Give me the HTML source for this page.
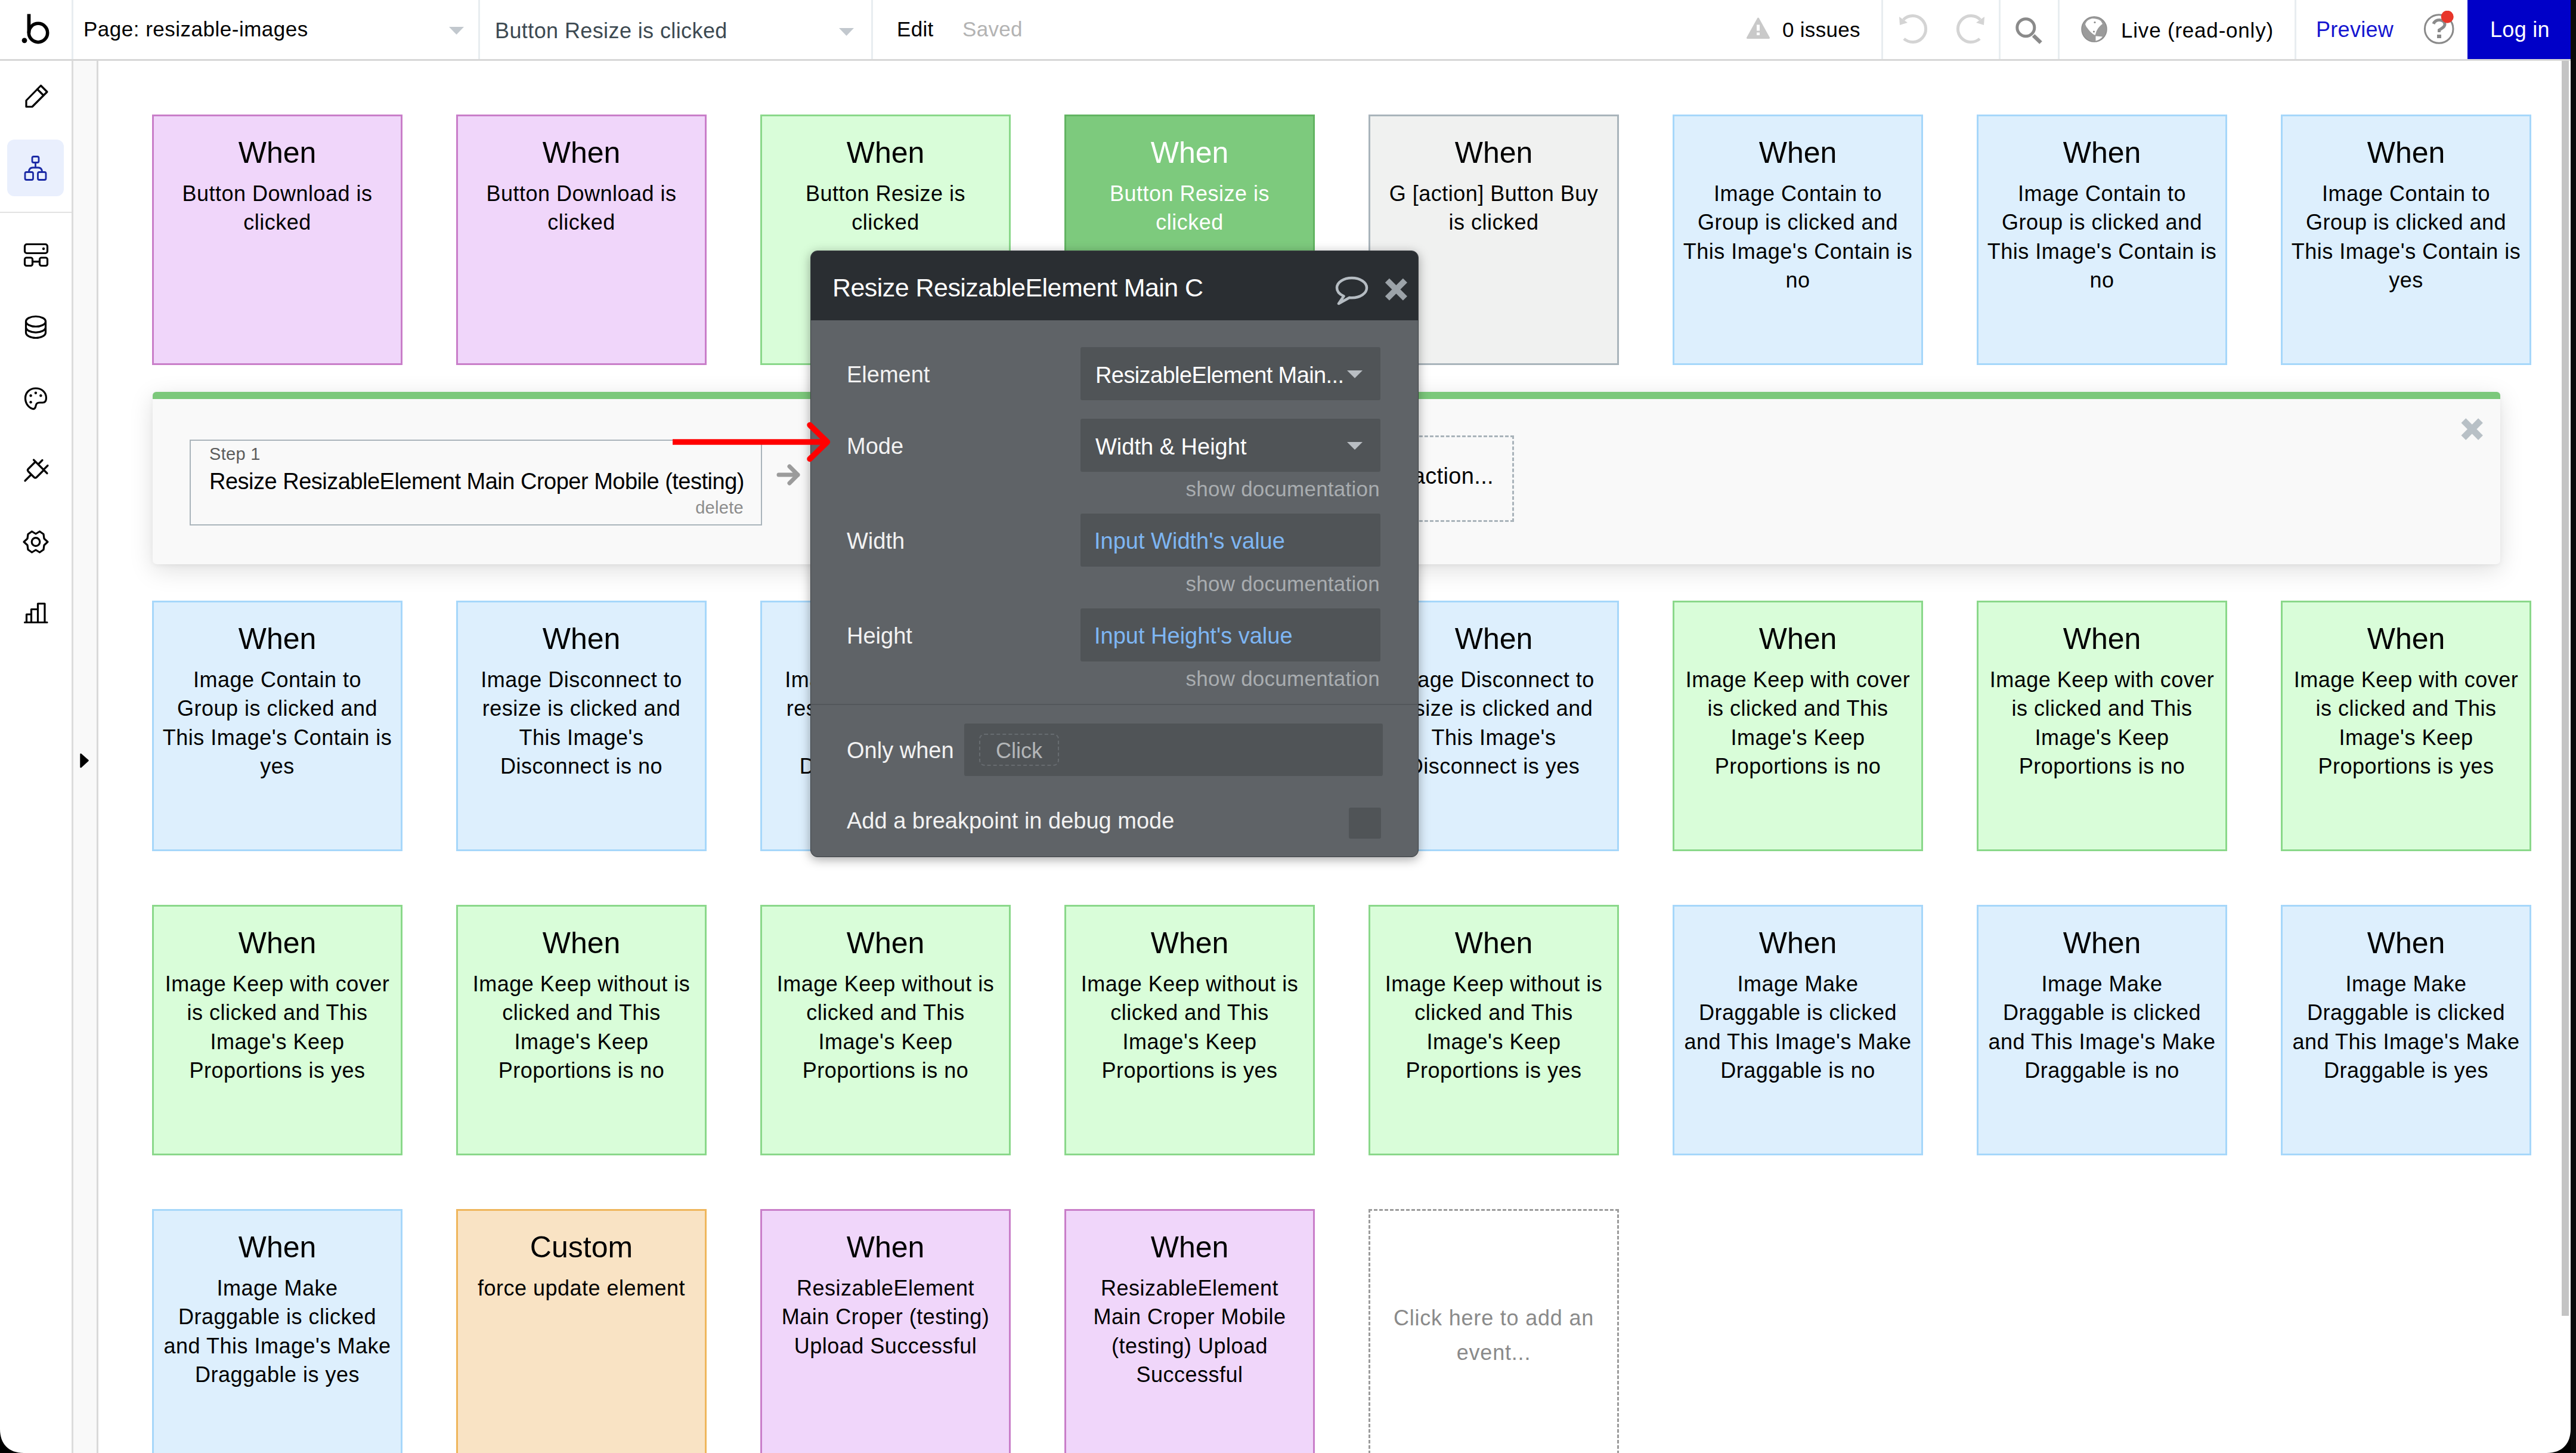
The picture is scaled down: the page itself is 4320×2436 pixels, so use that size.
<!DOCTYPE html>
<html><head><meta charset="utf-8"><style>
html,body{margin:0;padding:0;width:4320px;height:2436px;overflow:hidden;background:#fff;}
body{position:relative;font-family:"Liberation Sans", sans-serif;}
.t{position:absolute;white-space:nowrap;}
.b{position:absolute;}
.card{position:absolute;}
.ch{position:absolute;left:0;width:100%;text-align:center;white-space:nowrap;}
.cb{position:absolute;left:-20px;width:calc(100% + 40px);text-align:center;white-space:nowrap;}
</style></head><body>
<div class="card" style="left:255px;top:192px;width:414px;height:414px;background:#f0d6fa;border:3px solid #c97ec9;color:#000">
<div class="ch" style="top:35.7px;font-size:50px;line-height:50px">When</div>
<div class="cb" style="top:106.0px;font-size:36px;line-height:48.3px;letter-spacing:0.5px">Button Download is<br>clicked</div>
</div>
<div class="card" style="left:765px;top:192px;width:414px;height:414px;background:#f0d6fa;border:3px solid #c97ec9;color:#000">
<div class="ch" style="top:35.7px;font-size:50px;line-height:50px">When</div>
<div class="cb" style="top:106.0px;font-size:36px;line-height:48.3px;letter-spacing:0.5px">Button Download is<br>clicked</div>
</div>
<div class="card" style="left:1275px;top:192px;width:414px;height:414px;background:#d9fdd9;border:3px solid #8ad88a;color:#000">
<div class="ch" style="top:35.7px;font-size:50px;line-height:50px">When</div>
<div class="cb" style="top:106.0px;font-size:36px;line-height:48.3px;letter-spacing:0.5px">Button Resize is<br>clicked</div>
</div>
<div class="card" style="left:1785px;top:192px;width:414px;height:414px;background:#7dca7d;border:3px solid #62b462;color:#fff">
<div class="ch" style="top:35.7px;font-size:50px;line-height:50px">When</div>
<div class="cb" style="top:106.0px;font-size:36px;line-height:48.3px;letter-spacing:0.5px">Button Resize is<br>clicked</div>
</div>
<div class="card" style="left:2295px;top:192px;width:414px;height:414px;background:#f0f1f0;border:3px solid #a9b4bb;color:#000">
<div class="ch" style="top:35.7px;font-size:50px;line-height:50px">When</div>
<div class="cb" style="top:106.0px;font-size:36px;line-height:48.3px;letter-spacing:0.5px">G [action] Button Buy<br>is clicked</div>
</div>
<div class="card" style="left:2805px;top:192px;width:414px;height:414px;background:#ddeffd;border:3px solid #a6d7fa;color:#000">
<div class="ch" style="top:35.7px;font-size:50px;line-height:50px">When</div>
<div class="cb" style="top:106.0px;font-size:36px;line-height:48.3px;letter-spacing:0.5px">Image Contain to<br>Group is clicked and<br>This Image's Contain is<br>no</div>
</div>
<div class="card" style="left:3315px;top:192px;width:414px;height:414px;background:#ddeffd;border:3px solid #a6d7fa;color:#000">
<div class="ch" style="top:35.7px;font-size:50px;line-height:50px">When</div>
<div class="cb" style="top:106.0px;font-size:36px;line-height:48.3px;letter-spacing:0.5px">Image Contain to<br>Group is clicked and<br>This Image's Contain is<br>no</div>
</div>
<div class="card" style="left:3825px;top:192px;width:414px;height:414px;background:#ddeffd;border:3px solid #a6d7fa;color:#000">
<div class="ch" style="top:35.7px;font-size:50px;line-height:50px">When</div>
<div class="cb" style="top:106.0px;font-size:36px;line-height:48.3px;letter-spacing:0.5px">Image Contain to<br>Group is clicked and<br>This Image's Contain is<br>yes</div>
</div>
<div class="card" style="left:255px;top:1007px;width:414px;height:414px;background:#ddeffd;border:3px solid #a6d7fa;color:#000">
<div class="ch" style="top:35.7px;font-size:50px;line-height:50px">When</div>
<div class="cb" style="top:106.0px;font-size:36px;line-height:48.3px;letter-spacing:0.5px">Image Contain to<br>Group is clicked and<br>This Image's Contain is<br>yes</div>
</div>
<div class="card" style="left:765px;top:1007px;width:414px;height:414px;background:#ddeffd;border:3px solid #a6d7fa;color:#000">
<div class="ch" style="top:35.7px;font-size:50px;line-height:50px">When</div>
<div class="cb" style="top:106.0px;font-size:36px;line-height:48.3px;letter-spacing:0.5px">Image Disconnect to<br>resize is clicked and<br>This Image's<br>Disconnect is no</div>
</div>
<div class="card" style="left:1275px;top:1007px;width:414px;height:414px;background:#ddeffd;border:3px solid #a6d7fa;color:#000">
<div class="ch" style="top:35.7px;font-size:50px;line-height:50px">When</div>
<div class="cb" style="top:106.0px;font-size:36px;line-height:48.3px;letter-spacing:0.5px">Image Disconnect to<br>resize is clicked and<br>This Image's<br>Disconnect is yes</div>
</div>
<div class="card" style="left:1785px;top:1007px;width:414px;height:414px;background:#ddeffd;border:3px solid #a6d7fa;color:#000">
<div class="ch" style="top:35.7px;font-size:50px;line-height:50px">When</div>
<div class="cb" style="top:106.0px;font-size:36px;line-height:48.3px;letter-spacing:0.5px">Image Disconnect to<br>resize is clicked and<br>This Image's<br>Disconnect is yes</div>
</div>
<div class="card" style="left:2295px;top:1007px;width:414px;height:414px;background:#ddeffd;border:3px solid #a6d7fa;color:#000">
<div class="ch" style="top:35.7px;font-size:50px;line-height:50px">When</div>
<div class="cb" style="top:106.0px;font-size:36px;line-height:48.3px;letter-spacing:0.5px">Image Disconnect to<br>resize is clicked and<br>This Image's<br>Disconnect is yes</div>
</div>
<div class="card" style="left:2805px;top:1007px;width:414px;height:414px;background:#d9fdd9;border:3px solid #8ad88a;color:#000">
<div class="ch" style="top:35.7px;font-size:50px;line-height:50px">When</div>
<div class="cb" style="top:106.0px;font-size:36px;line-height:48.3px;letter-spacing:0.5px">Image Keep with cover<br>is clicked and This<br>Image's Keep<br>Proportions is no</div>
</div>
<div class="card" style="left:3315px;top:1007px;width:414px;height:414px;background:#d9fdd9;border:3px solid #8ad88a;color:#000">
<div class="ch" style="top:35.7px;font-size:50px;line-height:50px">When</div>
<div class="cb" style="top:106.0px;font-size:36px;line-height:48.3px;letter-spacing:0.5px">Image Keep with cover<br>is clicked and This<br>Image's Keep<br>Proportions is no</div>
</div>
<div class="card" style="left:3825px;top:1007px;width:414px;height:414px;background:#d9fdd9;border:3px solid #8ad88a;color:#000">
<div class="ch" style="top:35.7px;font-size:50px;line-height:50px">When</div>
<div class="cb" style="top:106.0px;font-size:36px;line-height:48.3px;letter-spacing:0.5px">Image Keep with cover<br>is clicked and This<br>Image's Keep<br>Proportions is yes</div>
</div>
<div class="card" style="left:255px;top:1517px;width:414px;height:414px;background:#d9fdd9;border:3px solid #8ad88a;color:#000">
<div class="ch" style="top:35.7px;font-size:50px;line-height:50px">When</div>
<div class="cb" style="top:106.0px;font-size:36px;line-height:48.3px;letter-spacing:0.5px">Image Keep with cover<br>is clicked and This<br>Image's Keep<br>Proportions is yes</div>
</div>
<div class="card" style="left:765px;top:1517px;width:414px;height:414px;background:#d9fdd9;border:3px solid #8ad88a;color:#000">
<div class="ch" style="top:35.7px;font-size:50px;line-height:50px">When</div>
<div class="cb" style="top:106.0px;font-size:36px;line-height:48.3px;letter-spacing:0.5px">Image Keep without is<br>clicked and This<br>Image's Keep<br>Proportions is no</div>
</div>
<div class="card" style="left:1275px;top:1517px;width:414px;height:414px;background:#d9fdd9;border:3px solid #8ad88a;color:#000">
<div class="ch" style="top:35.7px;font-size:50px;line-height:50px">When</div>
<div class="cb" style="top:106.0px;font-size:36px;line-height:48.3px;letter-spacing:0.5px">Image Keep without is<br>clicked and This<br>Image's Keep<br>Proportions is no</div>
</div>
<div class="card" style="left:1785px;top:1517px;width:414px;height:414px;background:#d9fdd9;border:3px solid #8ad88a;color:#000">
<div class="ch" style="top:35.7px;font-size:50px;line-height:50px">When</div>
<div class="cb" style="top:106.0px;font-size:36px;line-height:48.3px;letter-spacing:0.5px">Image Keep without is<br>clicked and This<br>Image's Keep<br>Proportions is yes</div>
</div>
<div class="card" style="left:2295px;top:1517px;width:414px;height:414px;background:#d9fdd9;border:3px solid #8ad88a;color:#000">
<div class="ch" style="top:35.7px;font-size:50px;line-height:50px">When</div>
<div class="cb" style="top:106.0px;font-size:36px;line-height:48.3px;letter-spacing:0.5px">Image Keep without is<br>clicked and This<br>Image's Keep<br>Proportions is yes</div>
</div>
<div class="card" style="left:2805px;top:1517px;width:414px;height:414px;background:#ddeffd;border:3px solid #a6d7fa;color:#000">
<div class="ch" style="top:35.7px;font-size:50px;line-height:50px">When</div>
<div class="cb" style="top:106.0px;font-size:36px;line-height:48.3px;letter-spacing:0.5px">Image Make<br>Draggable is clicked<br>and This Image's Make<br>Draggable is no</div>
</div>
<div class="card" style="left:3315px;top:1517px;width:414px;height:414px;background:#ddeffd;border:3px solid #a6d7fa;color:#000">
<div class="ch" style="top:35.7px;font-size:50px;line-height:50px">When</div>
<div class="cb" style="top:106.0px;font-size:36px;line-height:48.3px;letter-spacing:0.5px">Image Make<br>Draggable is clicked<br>and This Image's Make<br>Draggable is no</div>
</div>
<div class="card" style="left:3825px;top:1517px;width:414px;height:414px;background:#ddeffd;border:3px solid #a6d7fa;color:#000">
<div class="ch" style="top:35.7px;font-size:50px;line-height:50px">When</div>
<div class="cb" style="top:106.0px;font-size:36px;line-height:48.3px;letter-spacing:0.5px">Image Make<br>Draggable is clicked<br>and This Image's Make<br>Draggable is yes</div>
</div>
<div class="card" style="left:255px;top:2027px;width:414px;height:414px;background:#ddeffd;border:3px solid #a6d7fa;color:#000">
<div class="ch" style="top:35.7px;font-size:50px;line-height:50px">When</div>
<div class="cb" style="top:106.0px;font-size:36px;line-height:48.3px;letter-spacing:0.5px">Image Make<br>Draggable is clicked<br>and This Image's Make<br>Draggable is yes</div>
</div>
<div class="card" style="left:765px;top:2027px;width:414px;height:414px;background:#f9e3c4;border:3px solid #efb65c;color:#000">
<div class="ch" style="top:35.7px;font-size:50px;line-height:50px">Custom</div>
<div class="cb" style="top:106.0px;font-size:36px;line-height:48.3px;letter-spacing:0.5px">force update element</div>
</div>
<div class="card" style="left:1275px;top:2027px;width:414px;height:414px;background:#f0d6fa;border:3px solid #c97ec9;color:#000">
<div class="ch" style="top:35.7px;font-size:50px;line-height:50px">When</div>
<div class="cb" style="top:106.0px;font-size:36px;line-height:48.3px;letter-spacing:0.5px">ResizableElement<br>Main Croper (testing)<br>Upload Successful</div>
</div>
<div class="card" style="left:1785px;top:2027px;width:414px;height:414px;background:#f0d6fa;border:3px solid #c97ec9;color:#000">
<div class="ch" style="top:35.7px;font-size:50px;line-height:50px">When</div>
<div class="cb" style="top:106.0px;font-size:36px;line-height:48.3px;letter-spacing:0.5px">ResizableElement<br>Main Croper Mobile<br>(testing) Upload<br>Successful</div>
</div>
<div class="card" style="left:2295px;top:2027px;width:414px;height:414px;border:3px dashed #9c9c9c;background:#fff"></div>
<div class="t" style="left:2295px;top:2191.5px;font-size:36px;line-height:36px;color:#8a8a8a;letter-spacing:0.8px;width:420px;text-align:center;">Click here to add an</div>
<div class="t" style="left:2295px;top:2249.5px;font-size:36px;line-height:36px;color:#8a8a8a;letter-spacing:0.8px;width:420px;text-align:center;">event...</div>
<div class="b" style="left:256px;top:657px;width:3937px;height:289px;background:#f9f9f9;box-shadow:0 10px 40px rgba(0,0,0,0.13), 0 2px 8px rgba(0,0,0,0.05);border-radius:7px"></div>
<div class="b" style="left:256px;top:657px;width:3937px;height:12px;background:#7cc87b;border-radius:6px 6px 0 0"></div>
<div class="b" style="left:318px;top:737px;width:956px;height:140px;border:2.5px solid #aab4bb;background:#f9f9f9"></div>
<div class="t" style="left:351px;top:746.5px;font-size:29px;line-height:29px;color:#5c5c5c;letter-spacing:0.3px;">Step 1</div>
<div class="t" style="left:351px;top:787.8px;font-size:38px;line-height:38px;color:#000;letter-spacing:-0.5px;">Resize ResizableElement Main Croper Mobile (testing)</div>
<div class="t" style="right:3073px;top:836.5px;font-size:29px;line-height:29px;color:#8c8c8c;letter-spacing:0.3px;">delete</div>
<svg class="b" style="left:1300px;top:772px" width="48" height="48" viewBox="0 0 48 48"><path d="M6 24 H38 M24 10 L38 24 L24 38" stroke="#9b9b9b" stroke-width="7" fill="none" stroke-linecap="round" stroke-linejoin="round"/></svg>
<div class="b" style="left:1380px;top:730px;width:1153px;height:139px;border:3px dashed #a9b3ba;"></div>
<div class="t" style="right:1815px;top:778.8px;font-size:38px;line-height:38px;color:#000;letter-spacing:0.35px;">Click here to add an action...</div>
<svg class="b" style="left:4120px;top:694px" width="52" height="52" viewBox="4120 694 52 52"><path d="M4131.4 705.2 L4160 733.8 M4160 705.2 L4131.4 733.8" stroke="#b8c0c6" stroke-width="11" stroke-linecap="butt"/></svg>
<div class="b" style="left:1359px;top:420px;width:1020px;height:1017px;background:#5f6367;border-radius:12px;box-shadow:0 4px 18px rgba(0,0,0,0.35);overflow:hidden;border:1px solid #3a3e42;box-sizing:border-box">
<div class="b" style="left:0;top:0;width:1020px;height:116px;background:#2a2e32"></div>
<div class="b" style="left:0;top:759px;width:1020px;height:2px;background:#53575b"></div>
</div>
<div class="t" style="left:1396px;top:460.6px;font-size:43px;line-height:43px;color:#fff;letter-spacing:-0.55px;">Resize ResizableElement Main C</div>
<svg class="b" style="left:2236px;top:460px" width="62" height="54" viewBox="0 0 62 54"><path d="M31 6 C17 6 6 13.5 6 22.5 C6 28.5 10.5 33.5 17.5 36.5 L9 49 L27 39 C28.3 39.1 29.6 39.2 31 39.2 C45 39.2 56 31.8 56 22.5 C56 13.5 45 6 31 6 Z" stroke="#b5bcc2" stroke-width="4.5" fill="none" stroke-linejoin="round"/></svg>
<svg class="b" style="left:2315px;top:459px" width="52" height="52" viewBox="2315 459 52 52"><path d="M2326.4 470.3 L2356.4 500.3 M2356.4 470.3 L2326.4 500.3" stroke="#9ca3a9" stroke-width="10" stroke-linecap="butt"/></svg>
<div class="t" style="left:1420px;top:609.3px;font-size:38px;line-height:38px;color:#f2f2f2;">Element</div>
<div class="b" style="left:1812px;top:582px;width:503px;height:89px;background:#505457;border-radius:3px"></div>
<div class="t" style="left:1837px;top:609.8px;font-size:38px;line-height:38px;color:#fff;letter-spacing:-0.6px;">ResizableElement Main...</div>
<svg class="b" style="left:2259px;top:621px" width="26" height="14" viewBox="0 0 26 14"><path d="M0 0 H26 L13 13 Z" fill="#b9bec3"/></svg>
<div class="t" style="left:1420px;top:728.8px;font-size:38px;line-height:38px;color:#f2f2f2;">Mode</div>
<div class="b" style="left:1812px;top:702px;width:503px;height:89px;background:#505457;border-radius:3px"></div>
<div class="t" style="left:1837px;top:729.8px;font-size:38px;line-height:38px;color:#fff;">Width &amp; Height</div>
<svg class="b" style="left:2259px;top:741px" width="26" height="14" viewBox="0 0 26 14"><path d="M0 0 H26 L13 13 Z" fill="#b9bec3"/></svg>
<div class="t" style="right:2006px;top:802.4px;font-size:35px;line-height:35px;color:#a9adb0;letter-spacing:0.25px;">show documentation</div>
<div class="t" style="left:1420px;top:887.8px;font-size:38px;line-height:38px;color:#f2f2f2;">Width</div>
<div class="b" style="left:1812px;top:861px;width:503px;height:89px;background:#505457;border-radius:3px"></div>
<div class="t" style="left:1835px;top:887.8px;font-size:38px;line-height:38px;color:#7eb6f3;">Input Width's value</div>
<div class="t" style="right:2006px;top:961.4px;font-size:35px;line-height:35px;color:#a9adb0;letter-spacing:0.25px;">show documentation</div>
<div class="t" style="left:1420px;top:1046.8px;font-size:38px;line-height:38px;color:#f2f2f2;">Height</div>
<div class="b" style="left:1812px;top:1020px;width:503px;height:89px;background:#505457;border-radius:3px"></div>
<div class="t" style="left:1835px;top:1046.8px;font-size:38px;line-height:38px;color:#7eb6f3;">Input Height's value</div>
<div class="t" style="right:2006px;top:1120.4px;font-size:35px;line-height:35px;color:#a9adb0;letter-spacing:0.25px;">show documentation</div>
<div class="t" style="left:1420px;top:1238.8px;font-size:38px;line-height:38px;color:#f2f2f2;">Only when</div>
<div class="b" style="left:1617px;top:1213px;width:702px;height:88px;background:#505457;border-radius:3px"></div>
<div class="b" style="left:1642px;top:1230px;width:130px;height:50px;border:2px dashed #676c70;border-radius:9px"></div>
<div class="t" style="left:1670px;top:1240.5px;font-size:36px;line-height:36px;color:#b3b6b8;">Click</div>
<div class="t" style="left:1420px;top:1356.8px;font-size:38px;line-height:38px;color:#f2f2f2;">Add a breakpoint in debug mode</div>
<div class="b" style="left:2262px;top:1354px;width:54px;height:52px;background:#505457;border-radius:3px"></div>
<svg class="b" style="left:1120px;top:695px" width="290" height="90" viewBox="1120 695 290 90"><path d="M1128 741 H1386" stroke="#ff0000" stroke-width="9.5" fill="none"/><path d="M1358 712.5 L1387.5 741 L1358 769.5" stroke="#ff0000" stroke-width="9.5" fill="none" stroke-linecap="round" stroke-linejoin="round"/></svg>
<div class="b" style="left:0px;top:0px;width:4320px;height:99px;background:#fff"></div>
<div class="b" style="left:0px;top:99px;width:4320px;height:3px;background:#d7d7d7"></div>
<div class="b" style="left:120px;top:0px;width:3px;height:99px;background:#e8edf0"></div>
<div class="b" style="left:802px;top:0px;width:3px;height:99px;background:#e8edf0"></div>
<div class="b" style="left:1461px;top:0px;width:3px;height:99px;background:#e8edf0"></div>
<div class="b" style="left:3155px;top:0px;width:3px;height:99px;background:#e8edf0"></div>
<div class="b" style="left:3352px;top:0px;width:3px;height:99px;background:#e8edf0"></div>
<div class="b" style="left:3451px;top:0px;width:3px;height:99px;background:#e8edf0"></div>
<div class="b" style="left:3848px;top:0px;width:3px;height:99px;background:#e8edf0"></div>
<svg class="b" style="left:30px;top:18px" width="60" height="62" viewBox="30 18 60 62"><path d="M48.5 23.5 V55" stroke="#000" stroke-width="5.8" stroke-linecap="butt"/><circle cx="64" cy="55" r="15.7" stroke="#000" stroke-width="5.6" fill="none"/><circle cx="41" cy="67.8" r="4.4" fill="#000"/></svg>
<div class="t" style="left:140px;top:31.4px;font-size:35px;line-height:35px;color:#000;letter-spacing:0.5px;">Page: resizable-images</div>
<svg class="b" style="left:753px;top:45px" width="25" height="14" viewBox="0 0 25 14"><path d="M0 0 H25 L12.5 13 Z" fill="#c2c8ce"/></svg>
<div class="t" style="left:830px;top:34.0px;font-size:36px;line-height:36px;color:#3d4a52;letter-spacing:0.4px;">Button Resize is clicked</div>
<svg class="b" style="left:1407px;top:47px" width="25" height="14" viewBox="0 0 25 14"><path d="M0 0 H25 L12.5 13 Z" fill="#c2c8ce"/></svg>
<div class="t" style="left:1504px;top:31.4px;font-size:35px;line-height:35px;color:#000;letter-spacing:0.3px;">Edit</div>
<div class="t" style="left:1614px;top:31.4px;font-size:35px;line-height:35px;color:#b3b3b3;letter-spacing:0.3px;">Saved</div>
<svg class="b" style="left:2928px;top:28px" width="42" height="38" viewBox="2928 28 42 38"><path d="M2948.5 31 L2966.5 63.5 H2930.5 Z" fill="#c9c9c9" stroke="#c9c9c9" stroke-width="3" stroke-linejoin="round"/><rect x="2946" y="41.5" width="5" height="10" fill="#fff"/><rect x="2946" y="54.5" width="5" height="4.5" fill="#fff"/></svg>
<div class="t" style="left:2989px;top:31.9px;font-size:35px;line-height:35px;color:#000;letter-spacing:0.3px;">0 issues</div>
<svg class="b" style="left:3180px;top:20px" width="56" height="58" viewBox="3180 20 56 58"><path d="M3192 33 A22 22 0 1 1 3193 65" stroke="#d4d4d4" stroke-width="5" fill="none"/><path d="M3185 28 L3186 42 L3199 38 Z" fill="#d4d4d4"/></svg>
<svg class="b" style="left:3278px;top:20px" width="56" height="58" viewBox="3278 20 56 58"><path d="M3321 33 A22 22 0 1 0 3320 65" stroke="#d4d4d4" stroke-width="5" fill="none"/><path d="M3328 28 L3327 42 L3314 38 Z" fill="#d4d4d4"/></svg>
<svg class="b" style="left:3376px;top:25px" width="56" height="54" viewBox="3376 25 56 54"><circle cx="3397.3" cy="46.3" r="14.5" stroke="#8a8a8a" stroke-width="5" fill="none"/><path d="M3410 59.5 L3422.5 71.5" stroke="#8a8a8a" stroke-width="6.5" stroke-linecap="butt"/></svg>
<svg class="b" style="left:3488px;top:25px" width="48" height="48" viewBox="3488 25 48 48"><circle cx="3512" cy="49" r="21" fill="#9b9b9b" stroke="#8c8c8c" stroke-width="1.5"/><path d="M3497 40.5 C3499 35 3503 32 3509 31 C3514 31 3519 32 3523 35 L3526 40 C3522 43 3519 46 3517 50 C3515 53 3515 56 3513.5 59 C3509 57 3505 53 3502 49 C3500 46.5 3498 44 3497 40.5 Z" fill="#fff"/><circle cx="3513" cy="37.5" r="1.6" fill="#8c8c8c"/><circle cx="3511.5" cy="53" r="1.6" fill="#8c8c8c"/><path d="M3514.5 60.5 L3526 61.5 C3523 65 3519 67.5 3514.5 68.5 Z" fill="#fff"/></svg>
<div class="t" style="left:3557px;top:32.9px;font-size:35px;line-height:35px;color:#000;letter-spacing:0.8px;">Live (read-only)</div>
<div class="t" style="left:3884px;top:31.5px;font-size:36px;line-height:36px;color:#1515d0;letter-spacing:0.3px;">Preview</div>
<svg class="b" style="left:4060px;top:18px" width="62" height="62" viewBox="4060 18 62 62"><circle cx="4090.2" cy="48.5" r="23.8" stroke="#8a8a8a" stroke-width="3" fill="none"/><path d="M4081 40 C4083 35 4087 33.5 4091 33.5 C4096 33.5 4100 36.5 4100 41 C4100 46 4094 47.5 4090.5 50.5 V54" stroke="#8a8a8a" stroke-width="5" fill="none"/><rect x="4087" y="58" width="7" height="6" fill="#8a8a8a"/><circle cx="4104.2" cy="28.2" r="10.5" fill="#e8352a"/></svg>
<div class="b" style="left:4138px;top:0px;width:173px;height:99px;background:#0000c8"></div>
<div class="t" style="left:4176px;top:31.5px;font-size:36px;line-height:36px;color:#fff;letter-spacing:0.3px;">Log in</div>
<div class="b" style="left:0px;top:102px;width:120px;height:2334px;background:#fff"></div>
<div class="b" style="left:120px;top:102px;width:3px;height:2334px;background:#dcdcdc"></div>
<div class="b" style="left:123px;top:102px;width:39px;height:2334px;background:#f9f9f9"></div>
<div class="b" style="left:162px;top:102px;width:3px;height:2334px;background:#d9d9d9"></div>
<div class="b" style="left:0px;top:355px;width:120px;height:2px;background:#e2e2e2"></div>
<div class="b" style="left:12px;top:234px;width:95px;height:95px;background:#e9effd;border-radius:12px"></div>
<svg class="b" style="left:0;top:100px" width="120" height="1000" viewBox="0 100 120 1000"><path d="M68.5 143.5 L79 154 L54 179 H44 V168.5 Z M62.5 149.5 L73 160" stroke="#000" stroke-width="3.2" fill="none" stroke-linecap="round" stroke-linejoin="round"/><g stroke="#1b2aa5" stroke-width="2.8" fill="none" stroke-linejoin="round" stroke-linecap="round"><rect x="54" y="262.5" width="11" height="10" rx="2.5"/><path d="M59.5 272.5 V281 M48.5 288.5 C48.5 283 51 281 55 281 H64 C68 281 70.5 283 70.5 288.5"/><rect x="42" y="288.5" width="13.5" height="13" rx="2.5"/><rect x="63.5" y="288.5" width="13.5" height="13" rx="2.5"/></g><rect x="41.5" y="409.5" width="38" height="15" rx="3.5" stroke="#000" stroke-width="3.2" fill="none" stroke-linecap="round" stroke-linejoin="round"/><circle cx="73" cy="417" r="2.2" fill="#000"/><rect x="41.5" y="432" width="13" height="13.5" rx="3" stroke="#000" stroke-width="3.2" fill="none" stroke-linecap="round" stroke-linejoin="round"/><rect x="66.5" y="432" width="13" height="13.5" rx="3" stroke="#000" stroke-width="3.2" fill="none" stroke-linecap="round" stroke-linejoin="round"/><path d="M54.5 438.7 H66.5" stroke="#000" stroke-width="3.2" fill="none" stroke-linecap="round" stroke-linejoin="round"/><ellipse cx="60" cy="539" rx="16.5" ry="8.5" stroke="#000" stroke-width="3.2" fill="none" stroke-linecap="round" stroke-linejoin="round"/><path d="M43.5 539 V557.5 C43.5 562.5 51 566.5 60 566.5 C69 566.5 76.5 562.5 76.5 557.5 V539 M43.5 548.5 C43.5 553.5 51 557.3 60 557.3 C69 557.3 76.5 553.5 76.5 548.5" stroke="#000" stroke-width="3.2" fill="none" stroke-linecap="round" stroke-linejoin="round"/><path d="M55 685.5 C47.5 683.5 42.5 676 42.5 667.5 C42.5 657.5 50.5 651 60 651 C70 651 77.5 658 77.5 667 C77.5 672 75.5 675 71.5 675 H66 C62.5 675 60.5 677 60 680.5 C59.5 684 57.5 686 55 685.5 Z" stroke="#000" stroke-width="3.2" fill="none" stroke-linecap="round" stroke-linejoin="round"/><circle cx="51.6" cy="663.3" r="2.2" fill="#000"/><circle cx="59.9" cy="658.8" r="2.2" fill="#000"/><circle cx="68.4" cy="663.3" r="2.2" fill="#000"/><circle cx="51.6" cy="674.2" r="2.2" fill="#000"/><path d="M42 806 L52.5 795.5 M56.5 771 L79 793.5 M59.5 774 L47.5 786 C46 787.5 46 789 47.5 790.5 L57 800 C58.5 801.5 60 801.5 61.5 800 L73.5 788 M64 778.5 L71 771.5 M73 787.5 L80 780.5" stroke="#000" stroke-width="3.2" fill="none" stroke-linecap="round" stroke-linejoin="round"/><path d="M53.5 891 L60 895 L66.5 891 L73 895.5 L74 903 L80 908.5 L74 914 L73 921.5 L66.5 926 L60 922 L53.5 926 L47 921.5 L46 914 L40 908.5 L46 903 L47 895.5 Z" stroke="#000" stroke-width="3.2" fill="none" stroke-linecap="round" stroke-linejoin="round"/><circle cx="60" cy="908.5" r="6.8" stroke="#000" stroke-width="3.2" fill="none" stroke-linecap="round" stroke-linejoin="round"/><path d="M41.5 1043.5 H79 M44.5 1043.5 V1030 H52.5 V1043.5 M52.5 1043.5 V1021.5 H63.5 V1043.5 M63.5 1043.5 V1012 H75 V1043.5" stroke="#000" stroke-width="3.2" fill="none" stroke-linecap="round" stroke-linejoin="round"/></svg>
<svg class="b" style="left:130px;top:1258px" width="26" height="34" viewBox="130 1258 26 34"><path d="M135.5 1264.5 L147.5 1275 L135.5 1286 Z" fill="#000" stroke="#000" stroke-width="2.5" stroke-linejoin="round"/></svg>
<div class="b" style="left:4296px;top:102px;width:12px;height:2104px;background:#c4c4c4"></div>
<div class="b" style="left:4311px;top:0px;width:9px;height:2436px;background:#0a0a0a"></div>
<svg class="b" style="left:0;top:2396px" width="42" height="40" viewBox="0 0 42 40"><path d="M0 0 C0 24 14 40 40 40 H0 Z" fill="#000"/></svg>
<svg class="b" style="left:4270px;top:2396px" width="42" height="40" viewBox="0 0 42 40"><path d="M41 0 C41 24 27 40 1 40 H41 Z" fill="#000"/></svg>
</body></html>
